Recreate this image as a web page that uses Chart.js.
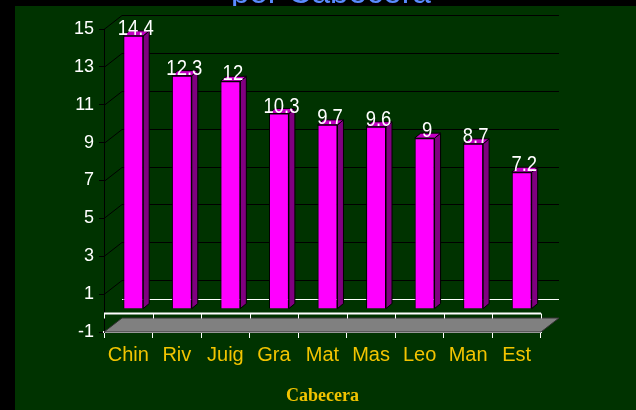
<!DOCTYPE html>
<html><head><meta charset="utf-8">
<script src="https://cdn.jsdelivr.net/npm/chart.js@4/dist/chart.umd.min.js"></script>
<style>html,body{margin:0;padding:0;background:#000;}canvas{display:block;}</style>
</head><body>
<canvas id="c" width="636" height="410"></canvas>
<script>
const categories = ['Chin','Riv','Juig','Gra','Mat','Mas','Leo','Man','Est'];
const values = [14.4, 12.3, 12, 10.3, 9.7, 9.6, 9, 8.7, 7.2];
const yTicks = [-1, 1, 3, 5, 7, 9, 11, 13, 15];
const titleText = 'por Cabecera';
const xTitle = 'Cabecera';

const DX = 18, DY = -14;     // wall depth
const BX = 5, BY = -4.5;     // bar placement within depth
const BDX = 6, BDY = -5;     // bar depth
const SANS = "'Liberation Sans', Arial, sans-serif";
const SERIF = "'Liberation Serif', 'Times New Roman', serif";
const YELLOW = '#f2c400';

const deco = {
  id: 'deco',
  beforeDraw(chart) {
    const ctx = chart.ctx;
    ctx.save();
    ctx.fillStyle = '#000';
    ctx.fillRect(0, 0, chart.width, chart.height);
    ctx.fillStyle = '#5a8cff';
    ctx.font = '33px ' + SANS;
    ctx.textAlign = 'center';
    ctx.textBaseline = 'alphabetic';
    ctx.fillText(titleText, 331, 3);
    ctx.fillStyle = '#003300';
    ctx.fillRect(15, 6, chart.width - 15, chart.height - 6);
    ctx.restore();
  },
  beforeDatasetsDraw(chart) {
    const ctx = chart.ctx, ca = chart.chartArea, y = chart.scales.y;
    ctx.save();
    ctx.strokeStyle = '#000';
    ctx.lineWidth = 1;
    yTicks.forEach(v => {
      const py = Math.round(y.getPixelForValue(v)) + 0.5;
      ctx.beginPath();
      ctx.moveTo(ca.left, py);
      ctx.lineTo(ca.left + DX, py + DY);
      ctx.lineTo(ca.right + DX, py + DY);
      ctx.stroke();
    });
    const p0 = Math.round(y.getPixelForValue(0)) + 0.5;
    ctx.strokeStyle = '#fff';
    ctx.beginPath();
    ctx.moveTo(ca.left + DX, p0 + DY);
    ctx.lineTo(ca.right + DX, p0 + DY);
    ctx.stroke();
    const pf = y.getPixelForValue(-1);
    ctx.fillStyle = '#808080';
    ctx.strokeStyle = '#333';
    ctx.beginPath();
    ctx.moveTo(ca.left, pf);
    ctx.lineTo(ca.right, pf);
    ctx.lineTo(ca.right + DX, pf + DY);
    ctx.lineTo(ca.left + DX, pf + DY);
    ctx.closePath();
    ctx.fill();
    ctx.stroke();
    ctx.strokeStyle = '#fff';
    ctx.lineWidth = 2;
    ctx.beginPath();
    ctx.moveTo(ca.left, p0);
    ctx.lineTo(ca.right, p0);
    ctx.stroke();
    ctx.lineWidth = 1;
    const step = (ca.right - ca.left) / categories.length;
    for (let i = 0; i <= categories.length; i++) {
      const bx = Math.round(ca.left + i * step) + 0.5;
      ctx.beginPath();
      ctx.moveTo(bx, p0);
      ctx.lineTo(bx, p0 + 5);
      ctx.stroke();
    }
    ctx.restore();
    ctx.save();
    ctx.translate(BX, BY);
    const meta = chart.getDatasetMeta(0);
    meta.data.forEach(el => {
      const l = el.x - el.width / 2, r = el.x + el.width / 2;
      ctx.lineWidth = 1;
      ctx.strokeStyle = '#000';
      ctx.fillStyle = '#800080';
      ctx.beginPath();
      ctx.moveTo(r, el.y);
      ctx.lineTo(r + BDX, el.y + BDY);
      ctx.lineTo(r + BDX, el.base + BDY);
      ctx.lineTo(r, el.base);
      ctx.closePath();
      ctx.fill(); ctx.stroke();
      ctx.fillStyle = '#c400c4';
      ctx.beginPath();
      ctx.moveTo(l, el.y);
      ctx.lineTo(l + BDX, el.y + BDY);
      ctx.lineTo(r + BDX, el.y + BDY);
      ctx.lineTo(r, el.y);
      ctx.closePath();
      ctx.fill(); ctx.stroke();
    });
  },
  afterDatasetsDraw(chart) {
    const ctx = chart.ctx;
    ctx.restore();
    ctx.save();
    ctx.fillStyle = '#fff';
    ctx.font = '21px ' + SANS;
    ctx.textAlign = 'center';
    ctx.textBaseline = 'alphabetic';
    const meta = chart.getDatasetMeta(0);
    meta.data.forEach((el, i) => {
      ctx.save();
      ctx.translate(el.x + BX + 2.5, el.y + BY - 1);
      ctx.scale(0.88, 1.03);
      ctx.fillText(String(values[i]), 0, 0);
      ctx.restore();
    });
    ctx.restore();
  }
};

new Chart(document.getElementById('c'), {
  type: 'bar',
  data: {
    labels: categories,
    datasets: [{
      data: values,
      backgroundColor: '#ff00ff',
      borderColor: '#000',
      borderWidth: 1,
      barPercentage: 0.41,
      categoryPercentage: 1
    }]
  },
  options: {
    responsive: false,
    devicePixelRatio: 1,
    animation: false,
    layout: { padding: { left: 0, top: 29, right: 95, bottom: 0 } },
    plugins: { legend: { display: false }, tooltip: { enabled: false }, title: { display: false } },
    scales: {
      x: {
        offset: true,
        afterFit(s) { s.height = 78; },
        grid: { offset: true, drawOnChartArea: false, drawTicks: true, tickLength: 6, color: '#fff', lineWidth: 1 },
        border: { color: '#fff', width: 2 },
        ticks: { color: YELLOW, font: { family: SANS, size: 20 }, padding: 5, maxRotation: 0 },
        title: { display: true, text: xTitle, color: YELLOW, font: { family: SERIF, size: 18, weight: 'bold' }, padding: { top: 0, bottom: 3 } }
      },
      y: {
        min: -1, max: 15,
        afterFit(s) { s.width = 104; },
        afterBuildTicks(s) { s.ticks = yTicks.map(v => ({ value: v })); },
        grid: { drawOnChartArea: false, drawTicks: true, tickLength: 5, color: '#000' },
        border: { color: '#000', width: 1 },
        ticks: { color: '#fff', font: { family: SANS, size: 18 }, padding: 5 }
      }
    }
  },
  plugins: [deco]
});
</script>
</body></html>
